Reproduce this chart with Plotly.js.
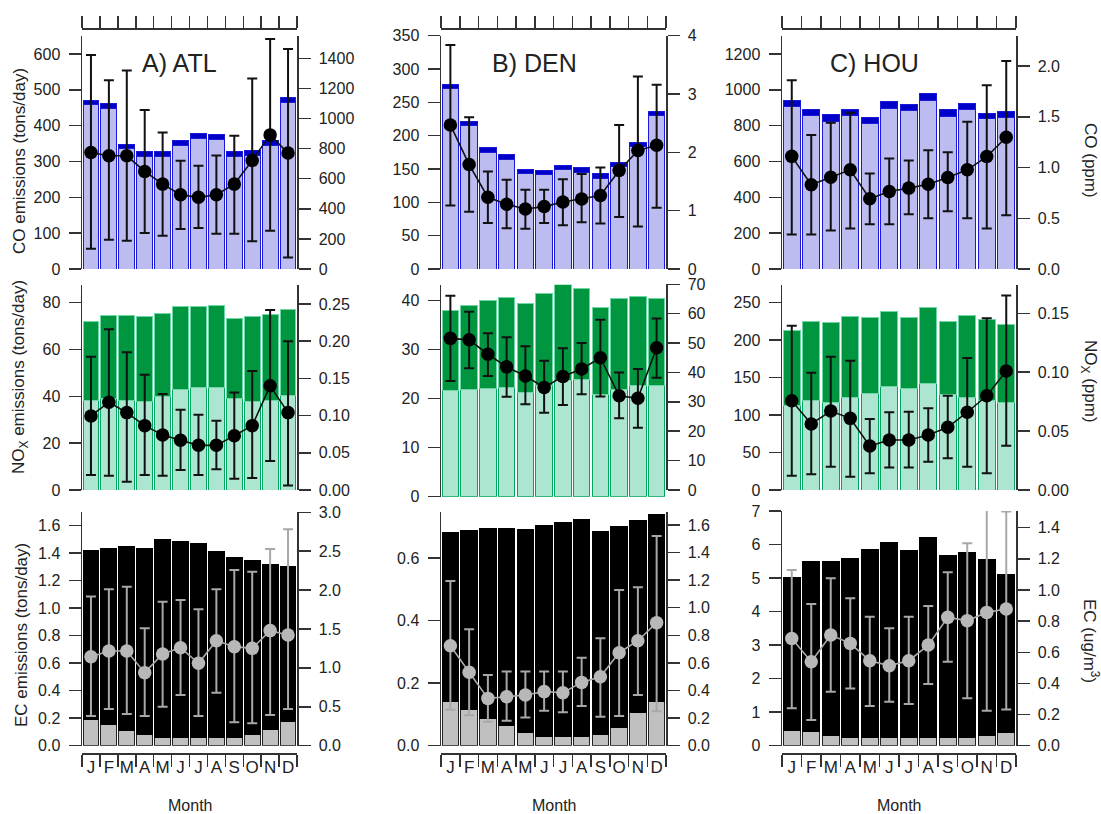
<!DOCTYPE html>
<html>
<head>
<meta charset="utf-8">
<script src="https://cdn.plot.ly/plotly-3.0.1.min.js"></script>
<style>html,body{margin:0;padding:0;background:#fff;}#chart{width:1101px;height:814px;}</style>
</head>
<body>
<div id="chart"></div>
<script>
// ---------- data ----------
const months = ['J','F','M','A','M','J','J','A','S','O','N','D'];
const monthPos = [1,2,3,4,5,6,7,8,9,10,11,12];
const monthBounds = [0.5,1.5,2.5,3.5,4.5,5.5,6.5,7.5,8.5,9.5,10.5,11.5,12.5];
const siteLabels = ['A) ATL','B) DEN','C) HOU'];

// CO emissions (tons/day): light part + dark cap
const coAtlLight = [458,448,335,314,314,345,364,360,314,317,345,464];
const coAtlCap   = [12,13,13,14,14,14,15,14,14,15,13,14];
const coDenLight = [271,216,175,165,144,142,149,145,136,154,184,230];
const coDenCap   = [6,6,7,7,6,6,7,7,7,6,6,6];
const coHouLight = [907,856,825,856,810,897,882,940,851,888,838,847];
const coHouCap   = [31,32,35,36,37,37,34,37,37,37,31,32];
// CO concentration
const coAtlMean = [774,752,752,648,564,493,476,493,564,721,891,770];
const coAtlHi   = [1422,1254,1318,1057,907,719,686,754,885,1265,1528,1462];
const coAtlLo   = [135,195,188,239,221,265,272,234,234,184,254,77];
const coDenMean = [2.47,1.79,1.23,1.11,1.03,1.07,1.15,1.20,1.26,1.69,2.03,2.12];
const coDenHi   = [3.84,2.60,1.67,1.53,1.36,1.36,1.54,1.63,1.74,2.47,3.30,3.16];
const coDenLo   = [1.09,0.98,0.79,0.70,0.69,0.79,0.75,0.80,0.78,0.89,0.73,1.05];
const coHouMean = [1.11,0.83,0.905,0.977,0.692,0.764,0.797,0.836,0.902,0.977,1.108,1.298];
const coHouHi   = [1.86,1.32,1.44,1.54,0.94,1.09,1.07,1.17,1.15,1.45,1.81,2.05];
const coHouLo   = [0.34,0.34,0.38,0.40,0.44,0.44,0.54,0.50,0.57,0.50,0.40,0.53];

// NOx emissions (tons/day): light part + dark part
const noxAtlLight = [38.1,38.9,38.1,38.0,40.0,43.0,43.8,43.7,38.9,37.7,38.4,40.3];
const noxAtlDark  = [33.8,35.5,36.3,36.2,35.4,35.3,34.6,35.0,34.3,36.3,36.5,36.6];
const noxDenLight = [21.6,21.9,22.1,22.3,21.3,22.6,23.8,24.0,20.8,21.8,22.6,22.7];
const noxDenDark  = [16.4,17.1,18.0,18.3,18.2,18.8,19.5,18.5,17.8,18.7,18.2,17.8];
const noxHouLight = [113.4,119.2,116.5,122.8,129,137.9,135.7,142.3,128.1,124.1,118.8,116.5];
const noxHouDark  = [100.1,106.3,106.8,108.1,101,100.1,94.7,101,97.4,108.6,109.4,104.5];
// NOx concentration
const noxAtlMean = [0.0995,0.118,0.104,0.0865,0.074,0.067,0.060,0.060,0.073,0.0865,0.140,0.104];
const noxAtlHi   = [0.179,0.216,0.185,0.155,0.129,0.108,0.101,0.093,0.131,0.160,0.242,0.200];
const noxAtlLo   = [0.020,0.019,0.011,0.020,0.019,0.027,0.020,0.028,0.015,0.016,0.039,0.006];
const noxDenMean = [51.6,51.1,46.2,41.9,38.8,34.9,38.6,41.2,45.0,32.1,31.2,48.4];
const noxDenHi   = [66.1,60.7,53.3,52.0,48.9,44.0,48.2,50.0,57.9,40.0,41.2,58.4];
const noxDenLo   = [37.1,41.4,38.8,31.7,29.2,26.3,28.9,32.6,31.8,24.4,21.2,38.2];
const noxHouMean = [0.0758,0.056,0.067,0.0608,0.0374,0.0425,0.0425,0.0467,0.0532,0.066,0.080,0.101];
const noxHouHi   = [0.1395,0.0996,0.113,0.1098,0.0603,0.066,0.0665,0.0693,0.080,0.112,0.1458,0.165];
const noxHouLo   = [0.0122,0.0133,0.0198,0.0113,0.0142,0.019,0.019,0.024,0.0269,0.0198,0.0142,0.0376];

// EC emissions (tons/day): gray part + black part
const ecAtlGray  = [0.187,0.155,0.114,0.082,0.061,0.061,0.061,0.061,0.058,0.082,0.119,0.175];
const ecAtlBlack = [1.236,1.28,1.333,1.351,1.439,1.423,1.408,1.35,1.312,1.263,1.197,1.127];
const ecDenGray  = [0.141,0.116,0.0875,0.064,0.0427,0.0288,0.0288,0.0288,0.036,0.0577,0.1057,0.143];
const ecDenBlack = [0.542,0.573,0.607,0.631,0.649,0.676,0.685,0.694,0.649,0.643,0.615,0.596];
const ecHouGray  = [0.447,0.418,0.298,0.239,0.239,0.239,0.239,0.249,0.239,0.239,0.318,0.398];
const ecHouBlack = [4.57,5.07,5.21,5.33,5.60,5.83,5.58,5.96,5.43,5.53,5.25,4.72];
// EC concentration (ug/m3)
const ecAtlMean = [1.144,1.217,1.217,0.939,1.179,1.26,1.059,1.35,1.273,1.251,1.479,1.423];
const ecAtlHi   = [1.916,2.01,2.044,1.509,1.851,1.873,1.753,2.01,2.259,2.237,2.529,2.781];
const ecAtlLo   = [0.381,0.471,0.407,0.381,0.501,0.651,0.381,0.681,0.30,0.287,0.394,0.471];
const ecDenMean = [0.725,0.532,0.343,0.355,0.367,0.392,0.384,0.459,0.50,0.674,0.761,0.892];
const ecDenHi   = [1.194,0.844,0.512,0.537,0.537,0.537,0.537,0.638,0.778,1.129,1.148,1.52];
const ecDenLo   = [0.26,0.22,0.174,0.181,0.205,0.254,0.242,0.288,0.21,0.215,0.367,0.25];
const ecHouMean = [0.689,0.539,0.711,0.657,0.546,0.514,0.546,0.646,0.824,0.803,0.856,0.878];
const ecHouHi   = [1.128,0.91,1.075,0.946,0.828,0.754,0.828,0.897,1.113,1.30,1.546,1.503];
const ecHouLo   = [0.24,0.165,0.347,0.368,0.255,0.283,0.268,0.396,0.539,0.304,0.225,0.233];

const leftTitles  = ['CO emissions (tons/day)','NO<sub>X</sub> emissions (tons/day)','EC emissions (tons/day)'];
const rightTitles = ['CO (ppm)','NO<sub>X</sub> (ppm)','EC (ug/m<sup>3</sup>)'];
const xTitle = 'Month';

// ---------- geometry / style ----------
const W = 1101, H = 814;
const fx = p => p / W;
const fy = p => 1 - p / H;
const FONT = 'Liberation Sans, Arial, Helvetica, sans-serif';
const TXT = '#222';
const colX = [[82, 297], [441, 666], [782, 1016]];

const styles = {
  co:  {lo:{fill:'rgb(188,188,240)', line:'rgb(25,25,215)'}, hi:{fill:'rgb(0,0,200)', line:'rgb(25,25,215)'},
        ln:'#111', mk:'#000', err:'#111'},
  nox: {lo:{fill:'rgb(172,230,208)', line:'rgb(0,165,95)'}, hi:{fill:'rgb(0,150,64)', line:'rgb(110,215,165)'},
        ln:'#111', mk:'#000', err:'#111'},
  ec:  {lo:{fill:'rgb(192,192,192)', line:'#222'}, hi:{fill:'#000', line:'#000'},
        ln:'#aaaaaa', mk:'#b8b8b8', err:'#a8a8a8'}
};

const panels = [
  {row:0,col:0,kind:'co', lo:coAtlLight, hi:coAtlCap, mean:coAtlMean, up:coAtlHi, dn:coAtlLo,
   L:{top:36,bot:269,max:650.2,dtick:100,fmt:''}, R:{top:36,bot:269,max:1548,dtick:200,fmt:''}},
  {row:0,col:1,kind:'co', lo:coDenLight, hi:coDenCap, mean:coDenMean, up:coDenHi, dn:coDenLo,
   L:{top:35.7,bot:269,max:350,dtick:50,fmt:''}, R:{top:35.7,bot:269,max:4,dtick:1,fmt:''}},
  {row:0,col:2,kind:'co', lo:coHouLight, hi:coHouCap, mean:coHouMean, up:coHouHi, dn:coHouLo,
   L:{top:36,bot:269,max:1300.5,dtick:200,fmt:''}, R:{top:36,bot:269,max:2.296,dtick:0.5,fmt:'.1f'}},
  {row:1,col:0,kind:'nox', lo:noxAtlLight, hi:noxAtlDark, mean:noxAtlMean, up:noxAtlHi, dn:noxAtlLo,
   L:{top:285,bot:490,max:87.56,dtick:20,fmt:''}, R:{top:285,bot:490,max:0.2755,dtick:0.05,fmt:'.2f'}},
  {row:1,col:1,kind:'nox', lo:noxDenLight, hi:noxDenDark, mean:noxDenMean, up:noxDenHi, dn:noxDenLo,
   L:{top:284.5,bot:496.7,max:43.3,dtick:10,fmt:''}, R:{top:284.3,bot:490,max:70,dtick:10,fmt:''}},
  {row:1,col:2,kind:'nox', lo:noxHouLight, hi:noxHouDark, mean:noxHouMean, up:noxHouHi, dn:noxHouLo,
   L:{top:285,bot:490,max:273.6,dtick:50,fmt:''}, R:{top:285,bot:490,max:0.174,dtick:0.05,fmt:'.2f'}},
  {row:2,col:0,kind:'ec', lo:ecAtlGray, hi:ecAtlBlack, mean:ecAtlMean, up:ecAtlHi, dn:ecAtlLo,
   L:{top:511.5,bot:745.7,max:1.703,dtick:0.2,fmt:'.1f'}, R:{top:511.5,bot:745.7,max:3.01,dtick:0.5,fmt:'.1f'}},
  {row:2,col:1,kind:'ec', lo:ecDenGray, hi:ecDenBlack, mean:ecDenMean, up:ecDenHi, dn:ecDenLo,
   L:{top:512,bot:745.7,max:0.748,dtick:0.2,fmt:'.1f'}, R:{top:512,bot:745.7,max:1.694,dtick:0.2,fmt:'.1f'}},
  {row:2,col:2,kind:'ec', lo:ecHouGray, hi:ecHouBlack, mean:ecHouMean, up:ecHouHi, dn:ecHouLo,
   L:{top:511,bot:745.7,max:7,dtick:1,fmt:''}, R:{top:511,bot:745.7,max:1.507,dtick:0.2,fmt:'.1f'}}
];

const traces = [];
const layout = {
  width: W, height: H,
  margin: {l:0, r:0, t:0, b:0},
  paper_bgcolor: '#fff', plot_bgcolor: 'rgba(0,0,0,0)',
  showlegend: false, barmode: 'stack',
  font: {family: FONT, color: TXT, size: 16},
  annotations: []
};

const axKey = (p, n) => (n === 1 ? p + 'axis' : p + 'axis' + n);
const axRef = (p, n) => (n === 1 ? p : p + n);

panels.forEach((P, i) => {
  const a = 2*i + 1, b = 2*i + 2;
  const st = styles[P.kind];
  const xd = [fx(colX[P.col][0]), fx(colX[P.col][1])];
  const baseX = {domain: xd, range: [0.5, 12.5], showgrid: false, zeroline: false,
                 showline: false, ticks: '', showticklabels: false, fixedrange: true};
  // bar x-axis
  const xa = Object.assign({}, baseX);
  if (P.row === 2) {
    Object.assign(xa, {anchor: 'free', position: fy(755), side: 'bottom',
      tickmode: 'array', tickvals: monthPos, ticktext: months, showticklabels: true,
      tickfont: {size: 17, color: TXT, family: FONT}});
  } else {
    xa.anchor = axRef('y', a);
  }
  layout[axKey('x', a)] = xa;
  // line x-axis (also draws brackets)
  const xb = Object.assign({}, baseX);
  if (P.row === 0) {
    Object.assign(xb, {anchor: 'free', position: fy(28.3), side: 'top', showline: true,
      linecolor: '#333', linewidth: 1.5, ticks: 'outside', ticklen: 12, tickwidth: 1.5,
      tickcolor: '#333', tickmode: 'array', tickvals: monthBounds});
  } else if (P.row === 2) {
    Object.assign(xb, {anchor: 'free', position: fy(753.3), side: 'bottom', showline: true,
      linecolor: '#333', linewidth: 1.5, ticks: 'outside', ticklen: 12, tickwidth: 1.5,
      tickcolor: '#333', tickmode: 'array', tickvals: monthBounds});
  } else {
    xb.anchor = axRef('y', b);
  }
  layout[axKey('x', b)] = xb;

  const baseY = {showgrid: false, zeroline: false, showline: true, linecolor: '#333',
                 linewidth: 1.5, ticks: 'outside', ticklen: 12, tickwidth: 1.5, tickcolor: '#333',
                 tickfont: {size: 16, color: TXT, family: FONT}, ticklabelstandoff: 5, fixedrange: true};
  layout[axKey('y', a)] = Object.assign({}, baseY, {
    domain: [fy(P.L.bot), fy(P.L.top)], range: [0, P.L.max], anchor: axRef('x', a), side: 'left',
    tick0: 0, dtick: P.L.dtick, tickformat: P.L.fmt});
  layout[axKey('y', b)] = Object.assign({}, baseY, {
    domain: [fy(P.R.bot), fy(P.R.top)], range: [0, P.R.max], anchor: axRef('x', b), side: 'right',
    tick0: 0, dtick: P.R.dtick, tickformat: P.R.fmt});

  // stacked bars
  traces.push({type: 'bar', x: monthPos, y: P.lo, width: 0.88,
    xaxis: axRef('x', a), yaxis: axRef('y', a),
    marker: {color: st.lo.fill, line: {color: st.lo.line, width: 1}}, hoverinfo: 'skip'});
  traces.push({type: 'bar', x: monthPos, y: P.hi, width: 0.88,
    xaxis: axRef('x', a), yaxis: axRef('y', a),
    marker: {color: st.hi.fill, line: {color: st.hi.line, width: 1}}, hoverinfo: 'skip'});
  // concentration line with error bars
  traces.push({type: 'scatter', mode: 'lines+markers', x: monthPos, y: P.mean,
    xaxis: axRef('x', b), yaxis: axRef('y', b), cliponaxis: false,
    line: {color: st.ln, width: 1.6},
    marker: {size: 13.5, color: st.mk, line: {width: 0}},
    error_y: {type: 'data', symmetric: false,
      array: P.up.map((v, k) => v - P.mean[k]),
      arrayminus: P.mean.map((v, k) => v - P.dn[k]),
      color: st.err, thickness: 2, width: 5},
    hoverinfo: 'skip'});
});

// panel labels
const labelPos = [[179, 63], [534, 63], [874, 63]];
siteLabels.forEach((t, k) => {
  layout.annotations.push({text: t, xref: 'paper', yref: 'paper', x: fx(labelPos[k][0]), y: fy(labelPos[k][1]),
    showarrow: false, xanchor: 'center', yanchor: 'middle', font: {size: 25, color: TXT, family: FONT}});
});
// left titles
const leftPos = [[19, 161], [20, 377], [21, 635]];
leftTitles.forEach((t, k) => {
  layout.annotations.push({text: t, xref: 'paper', yref: 'paper', x: fx(leftPos[k][0]), y: fy(leftPos[k][1]),
    showarrow: false, textangle: -90, xanchor: 'center', yanchor: 'middle', font: {size: 17, color: TXT, family: FONT}});
});
// right titles
const rightPos = [[1090, 160], [1089, 381], [1091, 641]];
rightTitles.forEach((t, k) => {
  layout.annotations.push({text: t, xref: 'paper', yref: 'paper', x: fx(rightPos[k][0]), y: fy(rightPos[k][1]),
    showarrow: false, textangle: 90, xanchor: 'center', yanchor: 'middle', font: {size: 17, color: TXT, family: FONT}});
});
// Month titles
const monthTitleX = [190, 554, 899];
monthTitleX.forEach(x => {
  layout.annotations.push({text: xTitle, xref: 'paper', yref: 'paper', x: fx(x), y: fy(805),
    showarrow: false, xanchor: 'center', yanchor: 'middle', font: {size: 16, color: TXT, family: FONT}});
});

Plotly.newPlot('chart', traces, layout, {staticPlot: true, displayModeBar: false});
</script>
</body>
</html>
